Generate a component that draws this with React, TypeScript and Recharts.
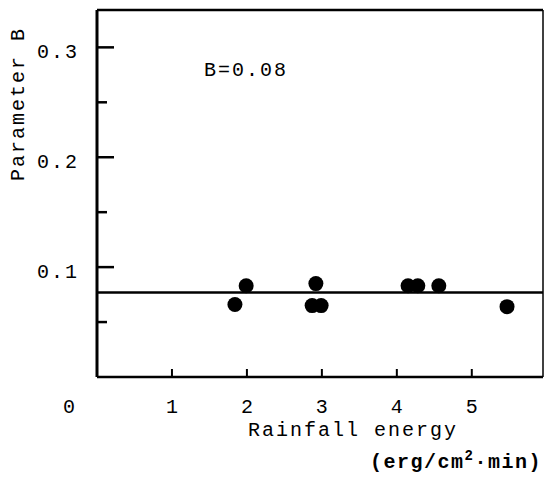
import { ScatterChart, Scatter, XAxis, YAxis, ReferenceLine, Label } from "recharts";

const energy = [1.84, 1.99, 2.87, 2.92, 2.99, 4.15, 4.28, 4.56, 5.47];
const paramB = [0.066, 0.083, 0.065, 0.085, 0.065, 0.083, 0.083, 0.083, 0.064];
const xTicks = [0, 1, 2, 3, 4, 5];
const yTicks = [0.05, 0.1, 0.15, 0.2, 0.25, 0.3];
const yLabelled = [0.1, 0.2, 0.3];
const meanB = 0.077;
const xMax = 5.95;
const yMax = 0.334;

const points = energy.map((e, i) => ({ energy: e, b: paramB[i] }));

const font = "'Liberation Mono', 'DejaVu Sans Mono', monospace";
const ink = "#000";

function YTick({ x, y, payload }: any) {
  const major = yLabelled.some((v) => Math.abs(v - payload.value) < 1e-9);
  return (
    <g>
      <line x1={x} x2={x + (major ? 17 : 10)} y1={y} y2={y} stroke={ink} strokeWidth={2.5} />
      {major && (
        <text x={x - 18} y={y + 5} textAnchor="end" dominantBaseline="central" fontFamily={font} fontSize={20} letterSpacing={2} fill={ink}>
          {payload.value.toFixed(1)}
        </text>
      )}
    </g>
  );
}

function XTick({ x, y, payload }: any) {
  const v = payload.value as number;
  return (
    <g>
      {v > 0 && <line x1={x} x2={x} y1={y} y2={y - 8} stroke={ink} strokeWidth={2} />}
      <text x={x + (v === 0 ? -28 : 0)} y={y + 30} textAnchor="middle" dominantBaseline="central" fontFamily={font} fontSize={20} fill={ink}>
        {v}
      </text>
    </g>
  );
}

function Dot({ cx, cy }: any) {
  return <circle cx={cx} cy={cy} r={7.5} fill={ink} />;
}

export default function App() {
  return (
    <div style={{ position: "absolute", left: 0, top: 0, width: 545, height: 478, background: "#fff" }}>
      <ScatterChart width={545} height={478} margin={{ top: 10, right: 2, bottom: 0, left: 0 }}>
        <XAxis
          type="number"
          dataKey="energy"
          domain={[0, xMax]}
          ticks={xTicks}
          allowDataOverflow
          height={101}
          tickSize={0}
          tickMargin={0}
          tickLine={false}
          tick={<XTick />}
          axisLine={{ stroke: ink, strokeWidth: 2.5 }}
        >
          <Label
            content={({ viewBox }: any) => (
              <g fontFamily={font} fill={ink}>
                <text x={viewBox.x + 256} y={viewBox.y + 53} textAnchor="middle" dominantBaseline="central" fontSize={20} letterSpacing={2}>
                  Rainfall energy
                </text>
                <text x={542} y={viewBox.y + 85} textAnchor="end" dominantBaseline="central" fontSize={20} fontWeight="bold" letterSpacing={1.5}>
                  (erg/cm<tspan fontSize={14} dy={-6}>2</tspan><tspan dy={6}>·min)</tspan>
                </text>
              </g>
            )}
          />
        </XAxis>
        <YAxis
          type="number"
          dataKey="b"
          domain={[0, yMax]}
          ticks={yTicks}
          allowDataOverflow
          width={97}
          tickSize={0}
          tickMargin={0}
          tickLine={false}
          tick={<YTick />}
          axisLine={{ stroke: ink, strokeWidth: 3 }}
        >
          <Label
            content={() => (
              <text x={18} y={104} transform="rotate(-90 18 104)" textAnchor="middle" dominantBaseline="central" fontFamily={font} fontSize={20} letterSpacing={2} fill={ink}>
                Parameter B
              </text>
            )}
          />
        </YAxis>
        <ReferenceLine y={yMax} stroke={ink} strokeWidth={2.5} />
        <ReferenceLine x={xMax} stroke={ink} strokeWidth={1.5} />
        <ReferenceLine
          y={meanB}
          stroke={ink}
          strokeWidth={2.5}
          label={() => (
            <text x={246} y={70} textAnchor="middle" dominantBaseline="central" fontFamily={font} fontSize={20} letterSpacing={2} fill={ink}>
              B=0.08
            </text>
          )}
        />
        <Scatter data={points} shape={<Dot />} isAnimationActive={false} />
      </ScatterChart>
    </div>
  );
}
